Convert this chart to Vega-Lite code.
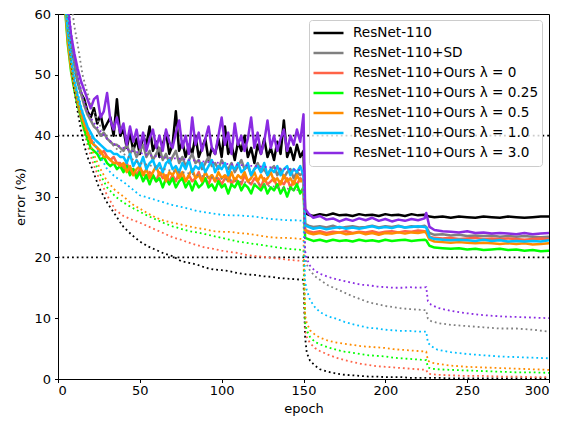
{
"$schema": "https://vega.github.io/schema/vega-lite/v6.json",
"width": 491, "height": 365,
"autosize": {"type": "none"},
"padding": {"left": 58, "top": 14, "right": 15, "bottom": 42},
"background": "white",
"config": {
  "font": "DejaVu Sans",
  "view": {"stroke": "black", "strokeWidth": 1},
  "axis": {"domainColor": "black", "tickColor": "black", "labelColor": "black", "titleColor": "black", "labelFontSize": 13, "titleFontSize": 13, "titleFontWeight": "normal", "tickSize": 3.5, "grid": false, "domainWidth": 1, "tickWidth": 1, "labelFont": "DejaVu Sans", "titleFont": "DejaVu Sans"},
  "axisX": {"labelPadding": 2, "titlePadding": 5},
  "axisY": {"labelPadding": 4, "titlePadding": 6},
  "legend": {"orient": "none", "legendX": 251, "legendY": 6, "padding": 3, "fillColor": "rgba(255,255,255,0.8)", "strokeColor": "#cccccc", "cornerRadius": 3, "symbolType": "stroke", "symbolSize": 900, "symbolStrokeWidth": 2.5, "labelFontSize": 13.6, "labelFont": "DejaVu Sans", "labelColor": "black", "labelOffset": 8, "clipHeight": 20, "rowPadding": 0, "labelLimit": 400}
},
"datasets": {
"ref": [{"y": 40}, {"y": 20}],
"test": [
{"e":2,"k":85,"g":85,"r":85,"n":85,"o":85,"c":85,"p":85},
{"e":4,"k":66,"g":67,"r":63,"n":62,"o":62.5,"c":63.5,"p":67},
{"e":6,"k":60,"g":61,"r":56,"n":55,"o":55.5,"c":57,"p":61},
{"e":8,"k":55.5,"g":56,"r":51.5,"n":50.5,"o":51,"c":52.5,"p":56.5},
{"e":10,"k":52,"g":52,"r":48,"n":47.5,"o":48,"c":49,"p":53.5},
{"e":12,"k":49,"g":49,"r":45.5,"n":45,"o":45.5,"c":46.5,"p":51},
{"e":14,"k":47,"g":47,"r":43.5,"n":43,"o":43.5,"c":44.5,"p":49},
{"e":16,"k":46,"g":45,"r":42,"n":41,"o":42,"c":43,"p":47.5},
{"e":18,"k":44,"g":43.5,"r":40.5,"n":39.5,"o":40.5,"c":41.5,"p":46},
{"e":20,"k":43,"g":42.5,"r":39.5,"n":38,"o":39,"c":40.5,"p":44.5},
{"e":22,"k":44.5,"g":41.5,"r":38.5,"n":37.5,"o":38.5,"c":39.5,"p":46},
{"e":24,"k":42,"g":41,"r":38,"n":37,"o":38,"c":39,"p":46.5},
{"e":26,"k":43.5,"g":40,"r":37,"n":36,"o":37.5,"c":38.5,"p":43},
{"e":28,"k":41,"g":40.5,"r":37.5,"n":36.5,"o":36.5,"c":38,"p":44},
{"e":30,"k":42,"g":39.5,"r":36.5,"n":35.5,"o":36.5,"c":37.5,"p":47},
{"e":32,"k":43,"g":39,"r":36,"n":35,"o":36,"c":37.5,"p":42.5},
{"e":34,"k":40,"g":38.5,"r":36.5,"n":35.5,"o":35.5,"c":37,"p":41},
{"e":36,"k":46,"g":38.5,"r":35.5,"n":34.5,"o":35.5,"c":37,"p":43},
{"e":38,"k":40,"g":38,"r":35.5,"n":35,"o":35,"c":36.5,"p":40.5},
{"e":40,"k":41.0,"p":42.0,"g":37.5,"c":36.5,"o":35.5,"r":34.5,"n":34.0},
{"e":42,"k":38.0,"p":38.5,"g":38.5,"c":35.5,"o":34.0,"r":35.5,"n":35.0},
{"e":44,"k":40.5,"p":41.5,"g":37.0,"c":37.0,"o":35.0,"r":34.0,"n":33.5},
{"e":46,"k":37.5,"p":39.0,"g":38.0,"c":35.0,"o":33.5,"r":34.5,"n":34.5},
{"e":48,"k":39.5,"p":41.0,"g":36.5,"c":36.0,"o":34.5,"r":33.5,"n":33.0},
{"e":50,"k":37.0,"p":38.0,"g":37.5,"c":35.0,"o":35.0,"r":34.5,"n":34.0},
{"e":52,"k":40.0,"p":40.5,"g":38.5,"c":36.5,"o":33.5,"r":34.0,"n":32.5},
{"e":54,"k":38.5,"p":37.5,"g":36.5,"c":34.5,"o":34.5,"r":33.0,"n":33.5},
{"e":56,"k":41.5,"p":39.5,"g":37.5,"c":35.5,"o":33.0,"r":34.0,"n":32.0},
{"e":58,"k":37.5,"p":41.0,"g":36.0,"c":36.0,"o":34.0,"r":33.5,"n":33.5},
{"e":60,"k":39.0,"p":38.0,"g":37.0,"c":34.5,"o":35.0,"r":32.5,"n":32.5},
{"e":62,"k":36.5,"p":40.0,"g":38.0,"c":35.5,"o":33.5,"r":34.0,"n":33.0},
{"e":64,"k":38.5,"p":37.5,"g":36.0,"c":34.0,"o":34.0,"r":33.0,"n":31.5},
{"e":66,"k":40.5,"p":41.0,"g":37.0,"c":35.5,"o":32.5,"r":33.5,"n":33.0},
{"e":68,"k":37.0,"p":39.0,"g":35.5,"c":36.0,"o":34.0,"r":32.5,"n":32.0},
{"e":70,"k":38.5,"p":38.0,"g":36.5,"c":34.5,"o":33.5,"r":33.5,"n":33.0},
{"e":72,"k":44.0,"p":40.5,"g":37.5,"c":35.0,"o":34.5,"r":32.5,"n":31.5},
{"e":74,"k":37.5,"p":42.5,"g":35.5,"c":34.0,"o":33.0,"r":34.0,"n":32.5},
{"e":76,"k":39.0,"p":38.0,"g":36.5,"c":35.5,"o":34.0,"r":33.0,"n":33.0},
{"e":78,"k":36.5,"p":40.0,"g":35.0,"c":34.5,"o":32.5,"r":32.5,"n":31.5},
{"e":80,"k":38.5,"p":37.0,"g":36.0,"c":36.0,"o":33.5,"r":33.5,"n":32.5},
{"e":82,"k":37.0,"p":43.0,"g":37.0,"c":34.0,"o":34.5,"r":32.5,"n":31.0},
{"e":84,"k":40.0,"p":38.5,"g":35.5,"c":35.0,"o":33.0,"r":33.0,"n":32.5},
{"e":86,"k":36.5,"p":40.5,"g":36.0,"c":34.5,"o":33.5,"r":34.0,"n":31.5},
{"e":88,"k":38.0,"p":37.5,"g":34.5,"c":35.5,"o":32.5,"r":32.5,"n":32.0},
{"e":90,"k":39.5,"p":39.5,"g":35.5,"c":34.0,"o":34.0,"r":33.0,"n":33.0},
{"e":92,"k":36.0,"p":41.5,"g":36.5,"c":35.0,"o":33.0,"r":32.0,"n":31.5},
{"e":94,"k":38.0,"p":38.0,"g":35.0,"c":36.0,"o":33.5,"r":33.5,"n":32.0},
{"e":96,"k":37.0,"p":37.0,"g":35.5,"c":34.0,"o":32.5,"r":32.5,"n":31.0},
{"e":98,"k":39.5,"p":40.0,"g":34.5,"c":35.0,"o":34.0,"r":33.0,"n":32.5},
{"e":100,"k":36.5,"p":43.0,"g":36.0,"c":34.5,"o":33.0,"r":32.0,"n":31.5},
{"e":102,"k":41.5,"p":38.5,"g":35.0,"c":35.5,"o":33.5,"r":33.0,"n":32.0},
{"e":104,"k":37.0,"p":40.5,"g":34.5,"c":33.5,"o":32.5,"r":33.5,"n":30.5},
{"e":106,"k":38.5,"p":37.0,"g":35.5,"c":35.0,"o":34.0,"r":32.0,"n":32.0},
{"e":108,"k":36.0,"p":42.0,"g":34.0,"c":34.5,"o":32.5,"r":33.0,"n":31.5},
{"e":110,"k":39.0,"p":38.5,"g":35.0,"c":35.5,"o":33.5,"r":32.5,"n":32.5},
{"e":112,"k":37.5,"p":40.0,"g":36.0,"c":34.0,"o":33.0,"r":32.0,"n":31.0},
{"e":114,"k":40.0,"p":37.5,"g":34.5,"c":34.5,"o":34.0,"r":33.5,"n":32.0},
{"e":116,"k":36.5,"p":39.5,"g":35.0,"c":35.5,"o":32.5,"r":32.5,"n":31.5},
{"e":118,"k":38.0,"p":43.0,"g":33.5,"c":33.5,"o":33.0,"r":32.0,"n":30.5},
{"e":120,"k":35.5,"p":38.0,"g":34.5,"c":34.5,"o":34.0,"r":33.0,"n":32.0},
{"e":122,"k":38.5,"p":40.5,"g":35.5,"c":35.0,"o":32.5,"r":32.5,"n":31.5},
{"e":124,"k":37.0,"p":37.0,"g":34.0,"c":34.0,"o":33.5,"r":31.5,"n":31.0},
{"e":126,"k":39.5,"p":39.0,"g":34.5,"c":35.5,"o":32.5,"r":33.0,"n":32.0},
{"e":128,"k":36.5,"p":42.5,"g":33.5,"c":33.5,"o":33.0,"r":32.0,"n":30.5},
{"e":130,"k":38.0,"p":38.0,"g":34.5,"c":34.5,"o":34.0,"r":32.5,"n":31.5},
{"e":132,"k":36.0,"p":40.0,"g":35.0,"c":34.0,"o":32.5,"r":33.0,"n":31.0},
{"e":134,"k":39.0,"p":37.5,"g":33.5,"c":35.0,"o":33.0,"r":31.5,"n":32.0},
{"e":136,"k":37.0,"p":39.5,"g":34.5,"c":33.5,"o":32.0,"r":32.5,"n":30.5},
{"e":138,"k":42.5,"p":41.0,"g":33.0,"c":34.5,"o":33.5,"r":32.0,"n":31.5},
{"e":140,"k":36.5,"p":37.5,"g":34.0,"c":35.0,"o":32.5,"r":33.0,"n":30.0},
{"e":142,"k":38.0,"p":40.0,"g":34.5,"c":33.5,"o":33.0,"r":31.5,"n":31.5},
{"e":144,"k":36.0,"p":38.5,"g":33.0,"c":34.5,"o":32.0,"r":32.5,"n":31.0},
{"e":146,"k":38.5,"p":41.0,"g":34.0,"c":34.0,"o":33.5,"r":32.0,"n":32.0},
{"e":148,"k":36.5,"p":39.0,"g":33.5,"c":35.0,"o":32.5,"r":33.0,"n":30.5},
{"e":150,"k":37.5,"p":43.5,"g":34.0,"c":33.5,"o":32.5,"r":32.5,"n":31.5},
{"e":151,"k":27.3,"g":25.5,"r":24.5,"n":23.2,"o":24.3,"c":25.2,"p":28.0},
{"e":153,"k":27.0,"g":25.2,"r":24.3,"n":23.0,"o":24.0,"c":25.0,"p":27.2},
{"e":156,"k":26.8,"g":25.0,"r":24.1,"n":22.7,"o":23.8,"c":24.7,"p":26.5},
{"e":160,"k":27.1,"g":25.1,"r":24.3,"n":22.9,"o":24.0,"c":24.9,"p":26.8},
{"e":164,"k":26.9,"g":24.9,"r":24.0,"n":22.6,"o":23.7,"c":24.6,"p":26.2},
{"e":168,"k":27.2,"g":25.2,"r":24.2,"n":22.9,"o":23.9,"c":24.8,"p":26.4},
{"e":172,"k":26.9,"g":24.8,"r":24.1,"n":22.7,"o":24.1,"c":25.0,"p":25.9},
{"e":176,"k":27.0,"g":25.0,"r":24.3,"n":22.8,"o":23.8,"c":24.7,"p":26.3},
{"e":180,"k":26.8,"g":25.1,"r":24.0,"n":22.6,"o":23.9,"c":24.9,"p":26.0},
{"e":184,"k":27.1,"g":24.9,"r":24.2,"n":22.9,"o":24.1,"c":24.7,"p":26.4},
{"e":188,"k":26.9,"g":25.0,"r":24.1,"n":22.7,"o":23.8,"c":24.9,"p":26.1},
{"e":192,"k":27.0,"g":25.2,"r":24.3,"n":22.8,"o":24.0,"c":25.1,"p":26.5},
{"e":196,"k":26.8,"g":24.9,"r":24.0,"n":22.6,"o":23.7,"c":24.8,"p":26.0},
{"e":200,"k":27.1,"g":25.1,"r":24.2,"n":22.9,"o":24.0,"c":25.0,"p":26.3},
{"e":204,"k":26.9,"g":25.0,"r":24.3,"n":22.7,"o":23.9,"c":24.8,"p":25.9},
{"e":208,"k":27.0,"g":25.2,"r":24.1,"n":22.8,"o":24.1,"c":25.1,"p":26.2},
{"e":212,"k":26.8,"g":24.9,"r":24.3,"n":22.9,"o":23.9,"c":24.9,"p":26.0},
{"e":216,"k":27.1,"g":25.1,"r":24.2,"n":22.7,"o":24.1,"c":25.0,"p":26.3},
{"e":220,"k":26.9,"g":25.0,"r":24.4,"n":22.8,"o":24.0,"c":25.1,"p":26.1},
{"e":224,"k":27.0,"g":25.2,"r":24.3,"n":22.9,"o":24.2,"c":25.0,"p":26.4},
{"e":225,"k":26.9,"g":25.0,"r":24.2,"n":22.8,"o":24.0,"c":24.9,"p":27.3},
{"e":227,"k":26.7,"g":24.0,"r":23.4,"n":21.9,"o":22.9,"c":23.3,"p":25.0},
{"e":230,"k":26.6,"g":23.7,"r":23.2,"n":21.6,"o":22.6,"c":23.0,"p":24.5},
{"e":235,"k":26.7,"g":23.8,"r":23.1,"n":21.5,"o":22.5,"c":22.9,"p":24.3},
{"e":240,"k":26.5,"g":23.6,"r":23.2,"n":21.4,"o":22.4,"c":22.8,"p":24.2},
{"e":245,"k":26.7,"g":23.7,"r":23.0,"n":21.5,"o":22.5,"c":22.9,"p":24.1},
{"e":250,"k":26.6,"g":23.5,"r":23.1,"n":21.3,"o":22.4,"c":22.8,"p":24.3},
{"e":255,"k":26.5,"g":23.6,"r":23.2,"n":21.4,"o":22.3,"c":22.7,"p":24.0},
{"e":260,"k":26.7,"g":23.5,"r":23.0,"n":21.2,"o":22.4,"c":22.9,"p":24.1},
{"e":265,"k":26.6,"g":23.6,"r":23.1,"n":21.3,"o":22.3,"c":22.7,"p":23.9},
{"e":270,"k":26.5,"g":23.4,"r":23.0,"n":21.4,"o":22.2,"c":22.8,"p":24.0},
{"e":275,"k":26.7,"g":23.5,"r":23.1,"n":21.2,"o":22.3,"c":22.6,"p":23.9},
{"e":280,"k":26.6,"g":23.4,"r":23.0,"n":21.3,"o":22.2,"c":22.7,"p":23.8},
{"e":285,"k":26.5,"g":23.5,"r":22.9,"n":21.1,"o":22.3,"c":22.6,"p":24.0},
{"e":290,"k":26.6,"g":23.4,"r":23.0,"n":21.2,"o":22.1,"c":22.7,"p":23.8},
{"e":295,"k":26.7,"g":23.3,"r":23.1,"n":21.0,"o":22.2,"c":22.6,"p":23.9},
{"e":300,"k":26.7,"g":23.4,"r":23.0,"n":21.1,"o":22.3,"c":22.8,"p":24.0}
],
"train": [
{"e":2,"k":85,"g":90,"r":85,"n":85,"o":85,"c":85,"p":88},
{"e":5,"k":62,"g":72,"r":61,"n":61,"o":61.5,"c":62,"p":66},
{"e":8,"k":52,"g":62,"r":52.5,"n":52.5,"o":53,"c":54,"p":57},
{"e":10,"k":47.5,"g":58,"r":48.5,"n":48.5,"o":49,"c":50,"p":53},
{"e":12,"k":44,"g":55,"r":45,"n":45.5,"o":46,"c":47,"p":50},
{"e":15,"k":39.5,"g":50,"r":41.5,"n":42,"o":42.5,"c":44,"p":46.5},
{"e":18,"k":36.5,"g":47,"r":38.5,"n":39,"o":40,"c":41.5,"p":44},
{"e":21,"k":34.5,"g":44.5,"r":35.8,"n":36.8,"o":37.5,"c":39.5,"p":42.5},
{"e":25,"k":31.5,"g":42,"r":33,"n":34,"o":35,"c":37,"p":41},
{"e":30,"k":29,"g":39.5,"r":30.2,"n":31.5,"o":32.5,"c":34.5,"p":39.5},
{"e":35,"k":27,"g":38,"r":27.8,"n":30,"o":31,"c":33.2,"p":38.5},
{"e":40,"k":25,"g":37,"r":26.8,"n":29,"o":30,"c":32.4,"p":38},
{"e":45,"k":23.7,"g":36.2,"r":26.2,"n":28.2,"o":28.8,"c":31.3,"p":37.5},
{"e":50,"k":22.6,"g":35.5,"r":25.7,"n":27.5,"o":28,"c":30.2,"p":37.2},
{"e":55,"k":21.8,"g":35.2,"r":25.1,"n":26.8,"o":27.2,"c":29.8,"p":36.8},
{"e":60,"k":21.2,"g":34.8,"r":24.5,"n":26.2,"o":26.5,"c":29.4,"p":36.6},
{"e":65,"k":20.6,"g":34.5,"r":23.9,"n":25.6,"o":26,"c":29,"p":36.4},
{"e":70,"k":20.2,"g":34.2,"r":23.3,"n":25.1,"o":25.7,"c":28.6,"p":36.3},
{"e":75,"k":19.4,"g":34,"r":22.9,"n":24.7,"o":25.4,"c":28.3,"p":36.2},
{"e":80,"k":19.1,"g":33.8,"r":22.4,"n":24.3,"o":25.1,"c":28,"p":36},
{"e":85,"k":18.8,"g":33.5,"r":22,"n":24.1,"o":24.8,"c":27.6,"p":35.9},
{"e":90,"k":18.3,"g":33.3,"r":21.6,"n":23.8,"o":24.6,"c":27.4,"p":35.7},
{"e":95,"k":18,"g":33.1,"r":21.4,"n":23.5,"o":24.3,"c":27.2,"p":35.6},
{"e":100,"k":17.9,"g":32.9,"r":21.1,"n":23.2,"o":24.2,"c":27,"p":35.5},
{"e":105,"k":17.7,"g":32.7,"r":20.9,"n":22.9,"o":24.2,"c":26.9,"p":35.3},
{"e":110,"k":17.4,"g":32.5,"r":20.7,"n":22.6,"o":24,"c":26.9,"p":35.2},
{"e":115,"k":17.2,"g":32.3,"r":20.4,"n":22.4,"o":23.9,"c":26.8,"p":35.1},
{"e":120,"k":17.1,"g":32.1,"r":20.2,"n":22.2,"o":23.7,"c":26.7,"p":35},
{"e":125,"k":16.9,"g":31.9,"r":20.1,"n":22,"o":23.5,"c":26.5,"p":34.9},
{"e":130,"k":16.8,"g":31.7,"r":19.9,"n":21.8,"o":23.3,"c":26.3,"p":34.8},
{"e":135,"k":16.6,"g":31.5,"r":19.8,"n":21.6,"o":23.2,"c":26.2,"p":34.6},
{"e":140,"k":16.5,"g":31.3,"r":19.6,"n":21.4,"o":23.2,"c":26.1,"p":34.5},
{"e":145,"k":16.4,"g":31.1,"r":19.5,"n":21.3,"o":23.1,"c":26.1,"p":34.4},
{"e":150,"k":16.3,"g":31,"r":19.4,"n":21.2,"o":23,"c":26,"p":34.3},
{"e":151,"k":6.8,"g":20,"r":8.0,"n":9.2,"o":10.5,"c":16,"p":21},
{"e":152,"k":4.3,"g":18.8,"r":6.9,"n":8.0,"o":9.2,"c":14.6,"p":19.8},
{"e":154,"k":3.0,"g":17.8,"r":5.9,"n":6.9,"o":8.0,"c":13.0,"p":18.6},
{"e":157,"k":2.2,"g":16.9,"r":5.1,"n":6.1,"o":7.3,"c":11.8,"p":17.8},
{"e":160,"k":1.6,"g":16.3,"r":4.6,"n":5.7,"o":6.8,"c":11.0,"p":17.3},
{"e":165,"k":1.2,"g":15.4,"r":4.0,"n":5.2,"o":6.3,"c":10.3,"p":16.8},
{"e":170,"k":0.9,"g":14.8,"r":3.5,"n":4.8,"o":6.0,"c":9.9,"p":16.4},
{"e":175,"k":0.7,"g":14.2,"r":3.1,"n":4.5,"o":5.8,"c":9.4,"p":16.1},
{"e":180,"k":0.6,"g":13.6,"r":2.8,"n":4.3,"o":5.6,"c":9.0,"p":15.8},
{"e":185,"k":0.5,"g":13.1,"r":2.5,"n":4.1,"o":5.4,"c":8.7,"p":15.5},
{"e":190,"k":0.4,"g":12.6,"r":2.3,"n":3.9,"o":5.3,"c":8.4,"p":15.4},
{"e":195,"k":0.4,"g":12.3,"r":2.1,"n":3.8,"o":5.2,"c":8.3,"p":15.2},
{"e":200,"k":0.3,"g":12.0,"r":2.0,"n":3.7,"o":5.1,"c":8.1,"p":15.1},
{"e":205,"k":0.3,"g":11.8,"r":1.9,"n":3.5,"o":4.9,"c":8.0,"p":15.0},
{"e":210,"k":0.3,"g":11.6,"r":1.8,"n":3.4,"o":4.8,"c":7.9,"p":15.0},
{"e":215,"k":0.2,"g":11.5,"r":1.7,"n":3.3,"o":4.7,"c":7.9,"p":15.1},
{"e":220,"k":0.2,"g":11.4,"r":1.6,"n":3.2,"o":4.6,"c":7.8,"p":15.0},
{"e":225,"k":0.2,"g":11.3,"r":1.5,"n":3.1,"o":4.5,"c":7.8,"p":15.1},
{"e":226,"k":0.2,"g":9.9,"r":0.9,"n":1.9,"o":3.0,"c":6.0,"p":12.8},
{"e":228,"k":0.2,"g":9.5,"r":0.8,"n":1.7,"o":2.7,"c":5.4,"p":12.2},
{"e":232,"k":0.2,"g":9.2,"r":0.7,"n":1.6,"o":2.5,"c":4.8,"p":11.7},
{"e":240,"k":0.1,"g":8.9,"r":0.6,"n":1.5,"o":2.2,"c":4.4,"p":11.2},
{"e":250,"k":0.1,"g":8.7,"r":0.5,"n":1.4,"o":2.0,"c":4.1,"p":10.8},
{"e":260,"k":0.1,"g":8.5,"r":0.5,"n":1.3,"o":1.9,"c":3.9,"p":10.5},
{"e":270,"k":0.1,"g":8.3,"r":0.4,"n":1.2,"o":1.8,"c":3.7,"p":10.3},
{"e":280,"k":0.1,"g":8.3,"r":0.4,"n":1.1,"o":1.7,"c":3.6,"p":10.2},
{"e":290,"k":0.1,"g":8.1,"r":0.3,"n":1.1,"o":1.6,"c":3.5,"p":10.1},
{"e":300,"k":0.1,"g":7.8,"r":0.3,"n":1.0,"o":1.5,"c":3.4,"p":10.0}
]
},
"layer": [
{
  "data": {"name": "ref"},
  "mark": {"type": "rule", "color": "black", "strokeWidth": 1.8, "strokeDash": [1.8, 3]},
  "encoding": {
    "y": {"field": "y", "type": "quantitative", "scale": {"domain": [0, 60], "nice": false}, "title": "error (%)"}
  }
},
{
  "data": {"name": "test"},
  "transform": [{"fold": ["k", "g", "r", "n", "o", "c", "p"], "as": ["s", "v"]}],
  "mark": {"type": "line", "strokeWidth": 2.5, "clip": true, "strokeJoin": "round"},
  "encoding": {
    "x": {"field": "e", "type": "quantitative", "scale": {"domain": [0, 300], "nice": false}, "title": "epoch", "axis": {"values": [0, 50, 100, 150, 200, 250, 300]}},
    "y": {"field": "v", "type": "quantitative", "scale": {"domain": [0, 60], "nice": false}, "title": "error (%)", "axis": {"values": [0, 10, 20, 30, 40, 50, 60]}},
    "color": {"field": "s", "type": "nominal", "sort": null,
      "scale": {"domain": ["k", "g", "r", "n", "o", "c", "p"], "range": ["#000000", "#808080", "#ff6347", "#00ff00", "#ff8c00", "#00bfff", "#8a2be2"]},
      "legend": {"title": null, "labelExpr": "datum.label=='k'?'ResNet-110':datum.label=='g'?'ResNet-110+SD':datum.label=='r'?'ResNet-110+Ours λ = 0':datum.label=='n'?'ResNet-110+Ours λ = 0.25':datum.label=='o'?'ResNet-110+Ours λ = 0.5':datum.label=='c'?'ResNet-110+Ours λ = 1.0':'ResNet-110+Ours λ = 3.0'"}}
  }
},
{
  "data": {"name": "train"},
  "transform": [{"fold": ["k", "g", "r", "n", "o", "c", "p"], "as": ["s", "v"]}],
  "mark": {"type": "line", "strokeWidth": 1.8, "clip": true, "strokeDash": [1.8, 3]},
  "encoding": {
    "x": {"field": "e", "type": "quantitative", "title": "epoch"},
    "y": {"field": "v", "type": "quantitative", "title": "error (%)"},
    "color": {"field": "s", "type": "nominal", "legend": null}
  }
}
]
}
